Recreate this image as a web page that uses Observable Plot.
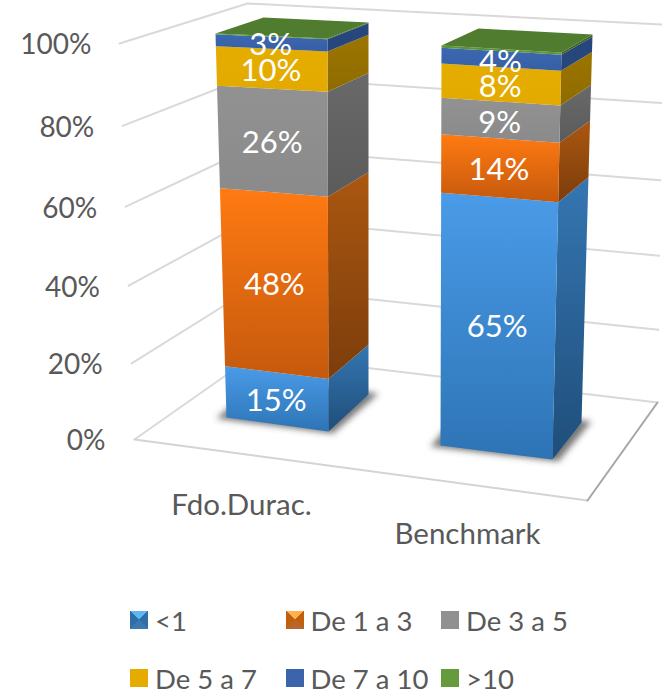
<!DOCTYPE html>
<html>
<head>
<meta charset="utf-8">
<script src="https://cdn.jsdelivr.net/npm/d3@7"></script>
<script src="https://cdn.jsdelivr.net/npm/@observablehq/plot@0.6"></script>
<style>
  html, body { margin: 0; padding: 0; background: #fff; width: 662px; height: 695px; overflow: hidden; }
  svg { display: block; }
  #legend { display: grid; grid-template-columns: repeat(3, 155.5px); grid-auto-rows: 34px; row-gap: 24px; padding-left: 130px;
            font-family: Lato, sans-serif; font-size: 27.5px; color: #595959; }
  .item { display: flex; align-items: center; white-space: nowrap; }
  .swatch { width: 18px; height: 18px; margin-right: 7px; flex: none; }
</style>
</head>
<body>
<div id="chart"></div>
<div id="legend"></div>
<script>
// ---- data (labels show the rounded values) ----
const categories = ["Fdo.Durac.", "Benchmark"];
const seriesNames = ["<1", "De 1 a 3", "De 3 a 5", "De 5 a 7", "De 7 a 10", ">10"];
const lt1    = [14.5, 65.4];
const de1a3  = [47.5, 14.0];
const de3a5  = [25.5, 8.6];
const de5a7  = [9.5, 7.9];
const de7a10 = [2.8, 3.6];
const gt10   = [0.2, 0.5];
const seriesValues = [lt1, de1a3, de3a5, de5a7, de7a10, gt10];
const tickValues = [0, 20, 40, 60, 80, 100];

// ---- styles ----
const keys = ["a", "b", "c", "d", "e", "f"];
const frontStops = [["#4a9be8", "#2d74b5"], ["#ff7a12", "#c5590d"], ["#929292", "#8a8a8a"], ["#e6ad00", "#e2a900"], ["#3c68b2", "#365fa3"], ["#5c9438", "#5c9438"]];
const sideStops = [["#3576b2", "#1f4e7a"], ["#ab5710", "#7c3d0b"], ["#696969", "#5b5b5b"], ["#9c7500", "#8f6b00"], ["#27467c", "#27467c"], ["#3f6226", "#3f6226"]];
const topColor = "#4f7c2e";
const legendBackgrounds = [
  "conic-gradient(from -45deg, #5fb6f2 0 25%, #2f6fa8 0 50%, #3a7ab0 0 75%, #2f6fa8 0)",
  "conic-gradient(from -45deg, #ffb14d 0 25%, #c0600f 0 50%, #b8662a 0 75%, #c0600f 0)",
  "#919191", "#e5ab00", "#3b64ad", "#659b3d"
];

// ---- perspective geometry of the 3-D frame ----
const barCorners = [
  { fl: [[226, 417], [215, 33]], fr: [[328, 431], [327, 38]], br: [[368, 394], [368, 22]], bl: [263, 17] },
  { fl: [[440, 445], [441, 45]], fr: [[552, 459], [561, 52]], br: [[581, 422], [592, 34]], bl: [478, 28] }
];
const wall = {
  left:   [[134, 439], [119, 43]],
  corner: [[255, 354], [247, 3]],
  right:  [[657, 402], [662, 24]]
};
const floorFront = [134, 439], floorFrontRight = [587, 500];
const barDepth = 1.1, wallDepth = 1.05;

const persp = (v, k) => { const t = v / 100; return t / (t + k * (1 - t)); };
const lerp = (a, b, t) => [a[0] + (b[0] - a[0]) * t, a[1] + (b[1] - a[1]) * t];
const onEdge = (e, v, k) => lerp(e[0], e[1], persp(v, k));

// vertical scale: the percent axis as it appears on the left wall
const axisRange = tickValues.map(v => onEdge(wall.left, v, wallDepth)[1]);
const yMap = d3.scaleLinear().domain(tickValues).range(axisRange);
const pt = p => ({ x: p[0], y: yMap.invert(p[1]) });

// ---- build polygons from the values ----
const polys = [], labels = [], shadows = [];
categories.forEach((cat, i) => {
  const c = barCorners[i];
  // floor shadow
  const bl0 = [c.fl[0][0] + c.br[0][0] - c.fr[0][0], c.fl[0][1] + c.br[0][1] - c.fr[0][1]];
  const base = [c.fl[0], c.fr[0], c.br[0], bl0];
  const cx = d3.mean(base, d => d[0]), cy = d3.mean(base, d => d[1]);
  base.forEach(p => shadows.push({ id: "s" + i, ...pt([cx + (p[0] - cx) * 1.14, cy + (p[1] - cy) * 1.08]) }));
  let cum = 0;
  const side = [], front = [];
  seriesValues.forEach((vals, s) => {
    const v0 = cum, v1 = cum + vals[i];
    cum = v1;
    const A = onEdge(c.fl, v0, barDepth), B = onEdge(c.fr, v0, barDepth), C = onEdge(c.fr, v1, barDepth), D = onEdge(c.fl, v1, barDepth);
    const E = onEdge(c.br, v0, barDepth), F = onEdge(c.br, v1, barDepth);
    [B, E, F, C].forEach(p => side.push({ id: `side${i}${s}`, fill: `url(#side-${keys[s]})`, ...pt(p) }));
    [A, B, C, D].forEach(p => front.push({ id: `front${i}${s}`, fill: `url(#front-${keys[s]})`, ...pt(p) }));
    if (s < 5) {
      const m = lerp(lerp(A, B, 0.5), lerp(D, C, 0.5), 0.5);
      labels.push({ text: d3.format(".0f")(vals[i]) + "%", ...pt(m) });
    }
  });
  polys.push(...side, ...front);
  [c.fl[1], c.fr[1], c.br[1], c.bl].forEach(p => polys.push({ id: `top${i}`, fill: topColor, ...pt(p) }));
});

const gridRows = tickValues.flatMap(v => [wall.left, wall.corner, wall.right].map(e => ({ id: v, ...pt(onEdge(e, v, wallDepth)) })));
const floorRows = [floorFront, floorFrontRight].map(pt);
const edgeRows = [floorFrontRight, wall.right[0]].map(pt);
const catRows = categories.map((name, i) => ({ name, x: [241, 467][i], y: yMap.invert([505, 534][i]) }));

const defs = () => {
  const d = d3.create("svg:defs");
  const add = (id, stops) => {
    const g = d.append("linearGradient").attr("id", id).attr("x1", 0).attr("y1", 0).attr("x2", 0).attr("y2", 1);
    g.append("stop").attr("offset", "0").attr("stop-color", stops[0]);
    g.append("stop").attr("offset", "1").attr("stop-color", stops[1]);
  };
  keys.forEach((k, s) => { add("front-" + k, frontStops[s]); add("side-" + k, sideStops[s]); });
  d.append("filter").attr("id", "blur").attr("x", "-20%").attr("y", "-30%").attr("width", "140%").attr("height", "160%")
    .append("feGaussianBlur").attr("stdDeviation", 3);
  return d.node();
};
const blurred = (index, scales, values, dims, ctx, next) => {
  const g = next(index, scales, values, dims, ctx);
  g.setAttribute("filter", "url(#blur)");
  return g;
};

const tickRight = d3.scaleLinear().domain([0, 100]).range([105, 91]);

const plot = Plot.plot({
  width: 662, height: 603,
  marginTop: 0, marginRight: 0, marginBottom: 0, marginLeft: 0,
  style: { fontFamily: "Lato, sans-serif", background: "#fff", overflow: "hidden" },
  x: { domain: [0, 662], range: [0, 662], axis: null },
  y: { type: "linear", domain: tickValues, range: axisRange, axis: null },
  color: { type: "identity" },
  marks: [
    defs,
    Plot.line(gridRows, { x: "x", y: "y", z: "id", stroke: "#d9d9d9", strokeWidth: 2, curve: "linear" }),
    Plot.line(floorRows, { x: "x", y: "y", stroke: "#d4d4d4", strokeWidth: 2 }),
    Plot.line(edgeRows, { x: "x", y: "y", stroke: "#a6a6a6", strokeWidth: 2 }),
    Plot.line(shadows, { x: "x", y: "y", z: "id", fill: "#4a4a4a", fillOpacity: 0.75, stroke: "none", render: blurred }),
    Plot.line(polys, { x: "x", y: "y", z: "id", fill: "fill", stroke: "none", curve: "linear" }),
    Plot.text(labels, { x: "x", y: "y", text: "text", fill: "#fff", fontSize: 31, dy: 2.5, dx: -1 }),
    Plot.text(tickValues, { x: d => tickRight(d), y: d => d, text: d => d + "%", textAnchor: "end", fill: "#595959", fontSize: 28, dy: 2 }),
    Plot.text(catRows, { x: "x", y: "y", text: "name", fill: "#595959", fontSize: 29.5 })
  ]
});
document.getElementById("chart").append(plot);

const legend = document.getElementById("legend");
seriesNames.forEach((name, s) => {
  const item = document.createElement("div");
  item.className = "item";
  const sw = document.createElement("span");
  sw.className = "swatch";
  sw.style.background = legendBackgrounds[s];
  const label = document.createElement("span");
  label.textContent = name;
  item.append(sw, label);
  legend.append(item);
});
</script>
</body>
</html>
